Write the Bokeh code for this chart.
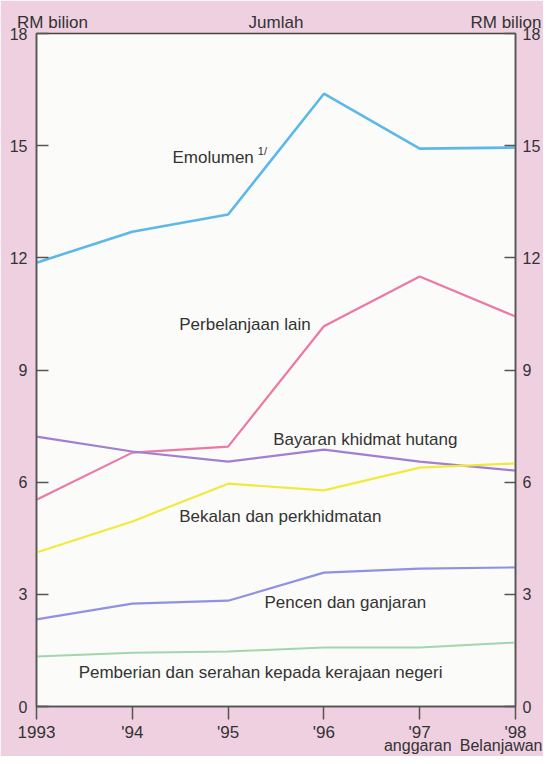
from bokeh.plotting import figure
from bokeh.models import Range1d, LinearAxis, FixedTicker, Label
from bokeh.embed import file_html
from bokeh.resources import INLINE

# ---- data (RM bilion) ----
years = ["1993", "'94", "'95", "'96", "'97", "'98"]
emolumen = [11.87, 12.70, 13.16, 16.39, 14.92, 14.95]
perbelanjaan_lain = [5.53, 6.79, 6.95, 10.17, 11.50, 10.43]
bayaran_khidmat_hutang = [7.22, 6.82, 6.55, 6.87, 6.55, 6.31]
bekalan_perkhidmatan = [4.12, 4.95, 5.96, 5.78, 6.39, 6.50]
pencen_ganjaran = [2.33, 2.75, 2.83, 3.58, 3.69, 3.72]
pemberian_serahan = [1.34, 1.44, 1.47, 1.58, 1.58, 1.71]
y_ticks = [0, 3, 6, 9, 12, 15, 18]
note_texts = ["anggaran", "Belanjawan"]
note_pos = [3.98, 4.85]
header_texts = ["RM bilion", "Jumlah", "RM bilion"]
header_pos = [0.167, 2.5, 4.9]

FONT = "Liberation Sans"
TXT = "#333333"
AX = "#555555"
BG = "#efd0e0"

W, H = 543, 756
FL, FR, FT, FB = 36, 515, 33, 707   # frame edges in canvas pixels

xs = list(range(len(years)))

p = figure(width=W, height=H, output_backend="svg", toolbar_location=None,
           x_range=Range1d(0, len(years) - 1), y_range=Range1d(0, 18),
           background_fill_color="#fbfbf9", border_fill_color=BG,
           min_border_left=FL, min_border_right=W - FR, min_border_top=FT,
           min_border_bottom=H - FB, y_axis_location=None, x_axis_location=None)
p.xgrid.visible = False
p.ygrid.visible = False
p.outline_line_color = "#444444"
p.outline_line_width = 1.5

series = [
    (emolumen, "#5db8ea", 2.6),
    (perbelanjaan_lain, "#ec78a6", 2.2),
    (bayaran_khidmat_hutang, "#a07fd2", 2.2),
    (bekalan_perkhidmatan, "#f2ea3a", 2.2),
    (pencen_ganjaran, "#8f92e2", 2.2),
    (pemberian_serahan, "#a3d6ae", 2.0),
]
for vals, col, w in series:
    p.line(xs, vals, line_color=col, line_width=w)

# axes
def style_axis(ax, size):
    ax.axis_line_color = AX
    ax.axis_line_width = 1.5
    ax.major_tick_line_color = AX
    ax.major_tick_line_width = 1.5
    ax.minor_tick_line_color = None
    ax.major_label_text_font = FONT
    ax.major_label_text_font_size = size
    ax.major_label_text_color = TXT

left = LinearAxis(ticker=FixedTicker(ticks=y_ticks))
style_axis(left, "16px")
left.major_tick_in = 12
left.major_tick_out = 0
left.major_label_standoff = 9
p.add_layout(left, "left")

right = LinearAxis(ticker=FixedTicker(ticks=y_ticks))
style_axis(right, "16px")
right.major_tick_in = 11
right.major_tick_out = 0
right.major_label_standoff = 7
p.add_layout(right, "right")

bottom = LinearAxis(ticker=FixedTicker(ticks=xs))
style_axis(bottom, "17px")
bottom.major_tick_in = 0
bottom.major_tick_out = 13
bottom.major_label_standoff = 3
bottom.major_label_overrides = {i: y for i, y in enumerate(years)}
p.add_layout(bottom, "below")

# second line under the years: "anggaran", "Belanjawan"
notes = LinearAxis(ticker=FixedTicker(ticks=note_pos))
style_axis(notes, "16px")
notes.axis_line_color = None
notes.major_tick_line_color = None
notes.major_tick_in = 0
notes.major_tick_out = 0
notes.major_label_standoff = -8
notes.major_label_overrides = {pos: t for pos, t in zip(note_pos, note_texts)}
p.add_layout(notes, "below")

# headers above the plot: "RM bilion", "Jumlah", "RM bilion"
heads = LinearAxis(ticker=FixedTicker(ticks=header_pos))
style_axis(heads, "17px")
heads.axis_line_color = None
heads.major_tick_line_color = None
heads.major_tick_in = 0
heads.major_tick_out = 0
heads.major_label_standoff = 2
heads.major_label_overrides = {pos: t for pos, t in zip(header_pos, header_texts)}
p.add_layout(heads, "above")

# series labels
labels = [
    (1.42, 14.68, "Emolumen"),
    (1.49, 10.21, "Perbelanjaan lain"),
    (2.47, 7.14, "Bayaran khidmat hutang"),
    (1.49, 5.08, "Bekalan dan perkhidmatan"),
    (2.38, 2.78, "Pencen dan ganjaran"),
    (0.44, 0.91, "Pemberian dan serahan kepada kerajaan negeri"),
]
for x, y, t in labels:
    p.add_layout(Label(x=x, y=y, text=t, text_align="left", text_baseline="middle",
                       text_font=FONT, text_font_size="17px", text_color=TXT))
p.add_layout(Label(x=2.31, y=14.85, text="1/", text_align="left", text_baseline="middle",
                   text_font=FONT, text_font_size="11px", text_color=TXT))

open("out.html", "w").write(file_html(p, INLINE))
